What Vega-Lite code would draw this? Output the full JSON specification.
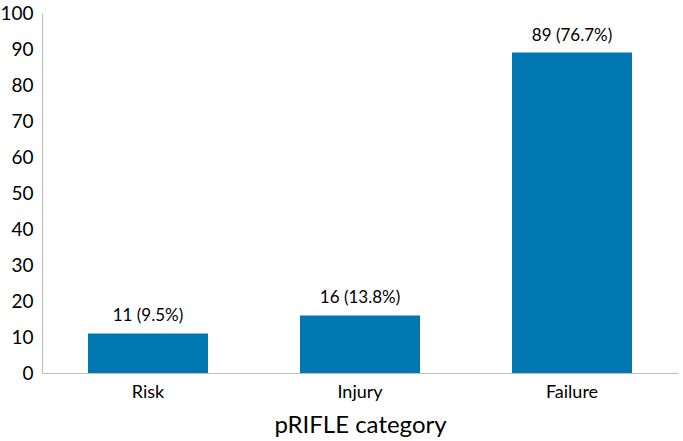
{
  "$schema": "https://vega.github.io/schema/vega-lite/v6.json",
  "autosize": "none",
  "padding": {"left": 42, "top": 13, "right": 5, "bottom": 68},
  "width": 636,
  "height": 360,
  "background": "white",
  "config": {"view": {"stroke": null}, "font": "Lato"},
  "data": {"values": [
    {"category": "Risk", "count": 11, "label": "11 (9.5%)"},
    {"category": "Injury", "count": 16, "label": "16 (13.8%)"},
    {"category": "Failure", "count": 89, "label": "89 (76.7%)"}
  ]},
  "encoding": {
    "x": {"field": "category", "type": "nominal", "sort": null,
      "scale": {"paddingInner": 0.434, "paddingOuter": 0.217},
      "axis": {"title": "pRIFLE category", "labelAngle": 0, "ticks": false, "domainColor": "#bfbfbf", "domainWidth": 1.2,
        "labelFont": "Lato", "labelFontSize": 18, "labelColor": "#000", "labelPadding": 10,
        "titleFont": "Lato", "titleFontSize": 24, "titleFontWeight": "normal", "titleColor": "#000", "titlePadding": 12}},
    "y": {"field": "count", "type": "quantitative",
      "scale": {"domain": [0, 100], "nice": false},
      "axis": {"title": null, "values": [0,10,20,30,40,50,60,70,80,90,100], "ticks": false, "grid": false,
        "domainColor": "#bfbfbf", "domainWidth": 1.2, "labelFont": "Lato", "labelFontSize": 19, "labelColor": "#000", "labelPadding": 9}}
  },
  "layer": [
    {"mark": {"type": "bar", "color": "#0077b1"}},
    {"mark": {"type": "text", "baseline": "bottom", "dy": -8, "font": "Lato", "fontSize": 17, "color": "#000"},
      "encoding": {"text": {"field": "label"}}}
  ]
}
